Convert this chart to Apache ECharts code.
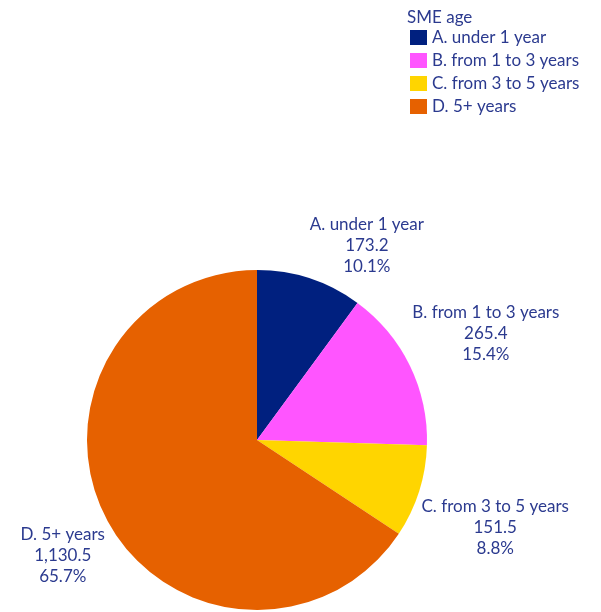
<!DOCTYPE html>
<html>
<head>
<meta charset="utf-8">
<title>SME age</title>
<script src="https://cdn.jsdelivr.net/npm/echarts@6/dist/echarts.min.js"></script>
<style>
	html, body { margin: 0; padding: 0; background: #fff; }
	#chart { width: 601px; height: 612px; }
</style>
</head>
<body>
<div id="chart"></div>
<script>
// data
var categories = ['A. under 1 year', 'B. from 1 to 3 years', 'C. from 3 to 5 years', 'D. 5+ years'];
var values = [173.2, 265.4, 151.5, 1130.5];
var colors = ['#00207f', '#ff55ff', '#ffd500', '#e66100'];

// label placement per slice (line length / distance), line itself is hidden
var labelLen = [35, 74, 118, 73];
var labelDist = [-11, -64, -110, -62];

var textColor = '#2b3a8f';
var fontName = 'Lato';

function fmtNum(v) {
	return v.toLocaleString('en-US', {minimumFractionDigits: 1, maximumFractionDigits: 1});
}

var pieData = [];
for (var i = 0; i < categories.length; i++) {
	pieData.push({
		name: categories[i],
		value: values[i],
		itemStyle: { color: colors[i] },
		label: { distanceToLabelLine: labelDist[i] },
		labelLine: { show: false, length: labelLen[i], length2: 0 }
	});
}

var mychart = echarts.init(document.getElementById('chart'));
var option = {
	animation: false,
	title: {
		text: 'SME age',
		left: 402,
		top: 4,
		textStyle: { color: textColor, fontFamily: fontName, fontSize: 17, fontWeight: 'normal' }
	},
	legend: {
		orient: 'vertical',
		left: 410,
		top: 29,
		padding: 0,
		itemWidth: 17,
		itemHeight: 15,
		itemGap: 6,
		icon: 'rect',
		data: categories,
		textStyle: { color: textColor, fontFamily: fontName, fontSize: 17 }
	},
	series: [{
		type: 'pie',
		center: [257, 440],
		radius: 170,
		startAngle: 90,
		clockwise: true,
		avoidLabelOverlap: false,
		itemStyle: { borderWidth: 0 },
		label: {
			show: true,
			position: 'outside',
			color: textColor,
			fontFamily: fontName,
			fontSize: 17,
			formatter: function (p) {
				return '{t|' + p.name + '}\n{t|' + fmtNum(p.value) + '}\n{t|' + p.percent.toFixed(1) + '%}';
			},
			rich: {
				t: { align: 'center', color: textColor, fontFamily: fontName, fontSize: 17, lineHeight: 21 }
			}
		},
		emphasis: { disabled: true },
		data: pieData
	}]
};
mychart.setOption(option);
</script>
</body>
</html>
